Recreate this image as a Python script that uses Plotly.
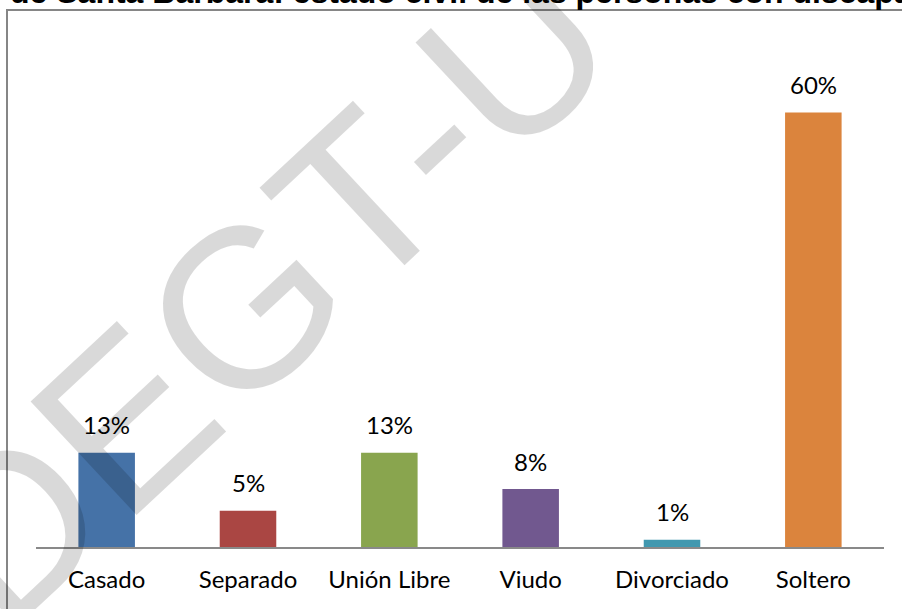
import plotly.graph_objects as go

categories = ["Casado", "Separado", "Unión Libre", "Viudo", "Divorciado", "Soltero"]
values = [13, 5, 13, 8, 1, 60]
labels = ["13%", "5%", "13%", "8%", "1%", "60%"]
colors = ["#4572A7", "#AA4643", "#89A54E", "#71588F", "#4198AF", "#DB843D"]
title_text = "de Santa Barbara: estado civil de las personas con discapacidad"
watermark_text = "DEGT-U"

W, H = 902, 609
L, R, T, B = 36, 18, 40, 62
pw, ph = W - L - R, H - T - B

def px_x(x):
    return (x - L) / pw

def px_y(y):
    return (H - B - y) / ph

fig = go.Figure(go.Bar(
    x=categories, y=values, marker=dict(color=colors, line=dict(width=0)),
    hoverinfo="skip",
))

annotations = []
annotations.append(dict(
    text=watermark_text, xref="paper", yref="paper", x=px_x(262), y=px_y(290),
    xanchor="center", yanchor="middle", textangle=-43, showarrow=False,
    font=dict(family="Liberation Sans, Arial", size=226, color="rgba(0,0,0,0.15)"),
))
for c, v, t in zip(categories, values, labels):
    annotations.append(dict(
        text=t, x=c, y=v, xref="x", yref="y", xanchor="center", yanchor="middle",
        yshift=28, showarrow=False,
        font=dict(family="Lato", size=24, color="#000000"),
    ))
annotations.append(dict(
    text="<b>" + title_text + "</b>", xref="paper", yref="paper", x=px_x(8), y=px_y(12.5),
    xanchor="left", yanchor="bottom", showarrow=False,
    font=dict(family="Liberation Sans, Arial", size=32, color="#000000"),
))

fig.update_layout(
    width=W, height=H,
    margin=dict(l=L, r=R, t=T, b=B, pad=0),
    paper_bgcolor="white", plot_bgcolor="white",
    showlegend=False, bargap=0.6,
    annotations=annotations,
    shapes=[dict(type="rect", xref="paper", yref="paper",
                 x0=px_x(7), x1=1.2, y0=-0.3, y1=px_y(10),
                 line=dict(color="#868686", width=2), fillcolor="rgba(0,0,0,0)", layer="below")],
    xaxis=dict(showline=True, linecolor="#898989", linewidth=2, ticks="",
               showgrid=False, zeroline=False, ticklabelstandoff=10,
               tickfont=dict(family="Lato", size=24, color="#000000")),
    yaxis=dict(range=[0, 70], visible=False, showgrid=False, zeroline=False),
)

fig.write_html(
    "out.html",
    config={"displayModeBar": False},
    post_script="document.body.style.margin='0';document.body.style.overflow='hidden';",
)
